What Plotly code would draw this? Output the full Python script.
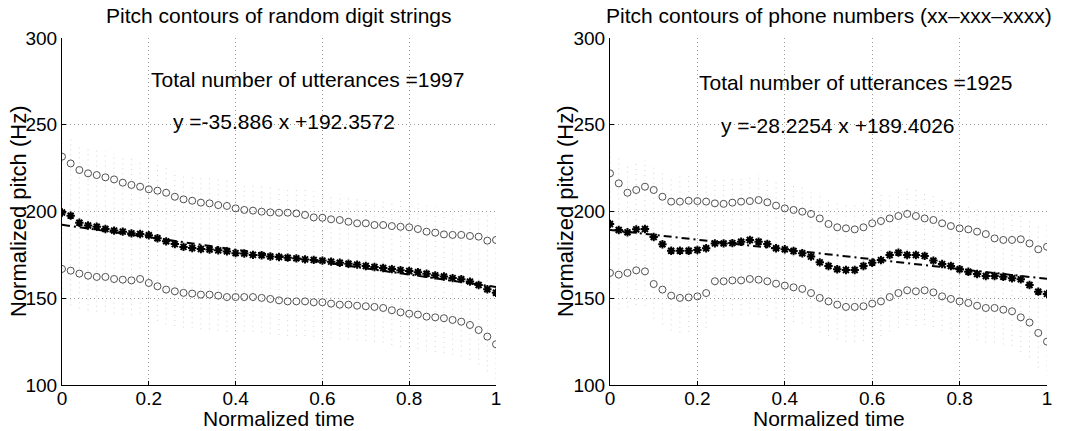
import plotly.graph_objects as go

# ---------------- data ----------------
time = [round(i * 0.02, 2) for i in range(51)]

digits_mean = [199.4, 197.6, 193.5, 191.9, 191.2, 189.9, 189.0, 188.4, 187.4, 187.0,
               186.3, 184.6, 182.8, 181.2, 179.6, 179.0, 178.4, 178.1, 177.6, 177.0,
               176.0, 175.8, 175.0, 174.8, 174.1, 173.8, 173.4, 173.0, 172.4, 172.1,
               171.7, 171.1, 170.5, 169.9, 169.4, 168.6, 168.0, 167.4, 166.8, 166.2,
               165.7, 165.0, 164.1, 163.2, 162.5, 161.6, 161.0, 159.6, 157.6, 155.2, 153.2]
digits_upper = [231.6, 227.7, 223.9, 222.0, 221.0, 219.7, 218.5, 216.6, 215.3, 214.3,
                212.8, 212.0, 210.8, 208.5, 207.0, 206.2, 205.1, 204.7, 203.7, 203.2,
                201.8, 200.9, 200.5, 199.9, 199.5, 199.3, 199.3, 198.9, 198.0, 196.6,
                196.4, 195.5, 195.1, 194.1, 193.2, 193.2, 192.2, 192.2, 191.6, 191.2,
                190.9, 189.9, 188.4, 187.8, 186.8, 186.5, 186.5, 185.9, 185.5, 183.2, 183.6]
digits_lower = [166.9, 165.9, 164.2, 163.0, 162.3, 162.3, 161.1, 160.7, 160.3, 161.1,
                158.8, 156.9, 155.0, 154.0, 153.1, 152.7, 152.1, 152.1, 151.5, 150.7,
                150.7, 150.7, 150.7, 150.2, 149.6, 148.8, 148.2, 148.2, 148.2, 147.7,
                147.7, 146.9, 146.3, 146.3, 145.7, 145.4, 145.0, 144.4, 143.1, 141.9,
                141.1, 140.6, 139.4, 139.0, 138.5, 137.5, 136.5, 134.6, 131.7, 127.9, 123.5]

phone_mean = [192.8, 189.3, 188.0, 189.7, 189.9, 185.3, 181.1, 177.4, 177.4, 177.4,
              177.8, 178.8, 181.6, 181.6, 181.8, 182.6, 183.6, 182.6, 181.3, 178.8,
              178.2, 177.2, 175.9, 174.0, 170.7, 168.6, 166.7, 166.3, 166.3, 168.6,
              170.5, 172.0, 174.9, 176.3, 174.9, 174.9, 174.4, 171.7, 169.7, 168.6,
              166.7, 165.3, 164.0, 162.8, 162.8, 162.4, 161.5, 160.9, 157.6, 153.8, 152.5]
phone_upper = [222.0, 216.2, 210.8, 212.4, 214.3, 212.4, 208.5, 205.7, 205.7, 206.2,
               206.0, 205.7, 204.7, 204.4, 205.1, 205.7, 206.0, 206.6, 205.3, 203.4,
               201.8, 200.9, 199.9, 198.6, 196.0, 192.8, 190.9, 190.3, 189.7, 190.9,
               193.2, 194.5, 196.0, 197.4, 198.6, 197.4, 196.0, 195.1, 193.2, 191.6,
               190.3, 189.7, 188.4, 187.0, 184.5, 183.6, 183.6, 184.0, 181.6, 178.2, 179.7]
phone_lower = [164.6, 163.6, 164.6, 166.1, 165.5, 158.2, 155.0, 151.5, 150.2, 150.5,
               151.1, 153.0, 159.8, 159.8, 160.3, 160.3, 161.1, 160.7, 159.8, 158.4,
               157.3, 156.3, 155.4, 153.0, 150.2, 148.2, 146.3, 145.0, 145.0, 145.4,
               146.9, 148.2, 150.7, 153.0, 154.6, 154.0, 154.6, 153.4, 151.1, 149.6,
               148.2, 147.3, 145.7, 144.4, 144.4, 143.4, 142.5, 139.0, 136.0, 130.0, 125.0]

fits = [(-35.886, 192.3572), (-28.2254, 189.4026)]
counts = [1997, 1925]
titles = ["Pitch contours of random digit strings",
          "Pitch contours of phone numbers (xx\u2013xxx\u2013xxxx)"]
y_ticks = [100, 150, 200, 250, 300]
x_ticks = [0, 0.2, 0.4, 0.6, 0.8, 1]
x_ticktext = ["0", "0.2", "0.4", "0.6", "0.8", "1"]

FONT = "Liberation Sans, Arial, Helvetica, sans-serif"
W, H = 1076, 431

fig = go.Figure()

panels = [
    (digits_mean, digits_upper, digits_lower, fits[0], counts[0], titles[0]),
    (phone_mean, phone_upper, phone_lower, fits[1], counts[1], titles[1]),
]
domains = [[62 / W, 496 / W], [610 / W, 1047 / W]]
ydom = [(H - 385) / H, (H - 38) / H]
text_y = [(276.0, 252.0), (274.5, 249.5)]
ytitle_x = [19, 566]

for k, (mean, upper, lower, (slope, icpt), n, title) in enumerate(panels):
    xa = "x" if k == 0 else "x2"
    ya = "y" if k == 0 else "y2"
    # faint vertical spread at each time step
    vx, vy = [], []
    for t, lo, hi in zip(time, lower, upper):
        vx += [t, t, None]
        vy += [lo - 20, hi + 15, None]
    fig.add_trace(go.Scatter(x=vx, y=vy, mode="lines", xaxis=xa, yaxis=ya,
                             line=dict(color="#d4d4d4", width=1, dash="1px,4px"),
                             hoverinfo="skip", showlegend=False))
    for band in (upper, lower):
        fig.add_trace(go.Scatter(x=time, y=band, mode="markers", xaxis=xa, yaxis=ya,
                                 marker=dict(symbol="circle-open", size=7, color="#505050",
                                             line=dict(width=1, color="#505050")),
                                 showlegend=False))
    fit_y = [slope * t + icpt for t in time]
    fig.add_trace(go.Scatter(x=time, y=fit_y, mode="lines", xaxis=xa, yaxis=ya,
                             line=dict(color="black", width=2, dash="8px,4px,2px,4px"),
                             showlegend=False))
    fig.add_trace(go.Scatter(x=time, y=mean, mode="markers", xaxis=xa, yaxis=ya,
                             marker=dict(symbol="asterisk-open", size=7, color="black",
                                         line=dict(width=2, color="black")),
                             showlegend=False))
    fig.add_annotation(x=0.20, y=text_y[k][0], xref=xa, yref=ya, xanchor="left",
                       yanchor="middle", text=f"Total number of utterances ={n}",
                       showarrow=False, font=dict(size=21, color="black", family=FONT))
    fig.add_annotation(x=0.25, y=text_y[k][1], xref=xa, yref=ya, xanchor="left",
                       yanchor="middle", text=f"y ={slope} x +{icpt}",
                       showarrow=False, font=dict(size=21, color="black", family=FONT))
    cx = (domains[k][0] + domains[k][1]) / 2
    fig.add_annotation(x=cx, y=(H - 15) / H, xref="paper", yref="paper",
                       xanchor="center", yanchor="middle", text=title, showarrow=False,
                       font=dict(size=21, color="black", family=FONT))
    # axis titles
    fig.add_annotation(x=cx, y=(H - 418) / H, xref="paper", yref="paper",
                       xanchor="center", yanchor="middle", text="Normalized time",
                       showarrow=False, font=dict(size=21, color="black", family=FONT))
    fig.add_annotation(x=ytitle_x[k] / W, y=(H - 211) / H, xref="paper", yref="paper",
                       xanchor="center", yanchor="middle", text="Normalized pitch (Hz)",
                       textangle=-90, showarrow=False,
                       font=dict(size=22, color="black", family=FONT))

axis_common = dict(showline=True, linecolor="black", linewidth=1, mirror=False,
                   showgrid=True, gridcolor="#9a9a9a", gridwidth=1, griddash="1px,3px",
                   ticks="inside", ticklen=4, tickcolor="black", zeroline=False,
                   automargin=False,
                   tickfont=dict(size=19, color="black", family=FONT))

for k in range(2):
    sx = "" if k == 0 else "2"
    fig.update_layout(**{
        f"xaxis{sx}": dict(domain=domains[k], range=[0, 1], tickvals=x_ticks,
                           ticktext=x_ticktext, anchor="y" + sx, ticklabelstandoff=-4,
                           **axis_common),
        f"yaxis{sx}": dict(domain=ydom, range=[100, 300], tickvals=y_ticks,
                           anchor="x" + sx, **axis_common),
    })

fig.update_layout(width=W, height=H, margin=dict(l=0, r=0, t=0, b=0, pad=0),
                  plot_bgcolor="white", paper_bgcolor="white", showlegend=False,
                  font=dict(family=FONT, color="black"))

fig.write_html("out.html")
